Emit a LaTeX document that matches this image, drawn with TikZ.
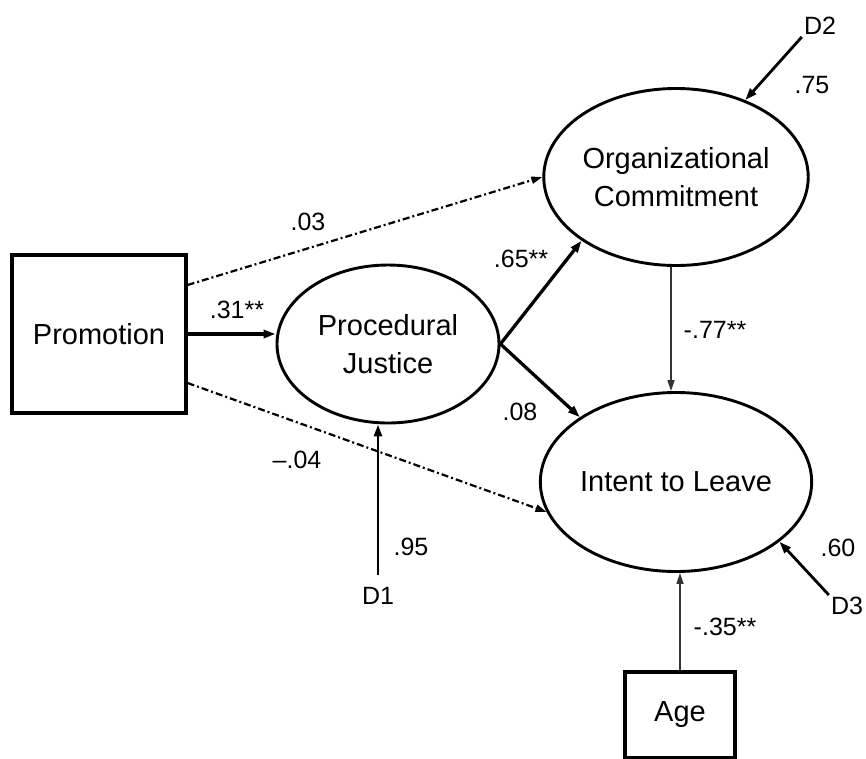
\documentclass[tikz,border=0pt]{standalone}
\usepackage{fontspec}
\setmainfont{Liberation Sans}
\usetikzlibrary{arrows.meta,shapes.geometric}

\tikzset{
  latent/.style={
    ellipse,
    draw,
    line width=2.9pt,
    inner sep=0pt,
    align=center,
    font=\fontsize{29}{38}\selectfont,
  },
  observed/.style={
    rectangle,
    draw,
    line width=3.1pt,
    inner sep=0pt,
    font=\fontsize{29}{35}\selectfont,
  },
  coef/.style={
    inner sep=0pt,
    font=\fontsize{25}{30}\selectfont,
  },
  disturb/.style={
    coef,
    inner sep=2pt,
  },
  path/.style={
    line width=3.3pt,
    -{Triangle[length=12pt,width=8pt]},
  },
  weak/.style={
    line width=1.6pt,
    draw=black!80,
    -{Triangle[length=11pt,width=7pt]},
  },
  nonsig/.style={
    line width=2.2pt,
    dash pattern=on 7pt off 3pt on 2pt off 3pt,
    -{Triangle[length=11pt,width=7pt]},
  },
}

\begin{document}
\begin{tikzpicture}[x=1pt, y=-1pt]

      \useasboundingbox (0,0) rectangle (866,758);

      \node[observed, minimum width=174pt, minimum height=158pt](promo) at (99,334) {Promotion};
      \node[latent, minimum width=222pt, minimum height=158pt](pj) at (388,344) {Procedural\\Justice};
      \node[latent, minimum width=248pt, minimum height=177pt](oc) at (676,177) {Organizational\\Commitment};
      \node[latent, minimum width=248pt, minimum height=179pt](itl) at (676,482) {Intent to Leave};
      \node[observed, minimum width=110pt, minimum height=86pt](age) at (680,715) {Age};

      \node[disturb](d1) at (378,596) {D1};
      \node[disturb](d2) at (820,26) {D2};
      \node[disturb](d3) at (847,606) {D3};

      \draw[path] (promo.east) -- (promo.east -| pj.west);
      \draw[path] (pj.east) -- (oc.214);
      \draw[path] (pj.east) -- (itl.146);
      \draw[nonsig] (promo.east |- 0,285) -- (oc.west);
      \draw[nonsig] (promo.east |- 0,383) -- (itl.193);
      \draw[weak] (oc.south -| 671,0) -- (itl.north -| 671,0);
      \draw[weak] (age.north) -- (age.north |- itl.south);

      \draw[path, line width=2.8pt, shorten <=10pt] (d1.north) -- (d1.north |- pj.south);
      \draw[path, line width=2.8pt] (d2.south west) -- (oc.48);
      \draw[path, line width=2.8pt] (d3.north west) -- (itl.-30);

      \node[coef] at (237,310) {.31**};
      \node[coef] at (308,222) {.03};
      \node[coef] at (297,460) {–.04};
      \node[coef] at (521,259) {.65**};
      \node[coef] at (520,412) {.08};
      \node[coef] at (715,330) {-.77**};
      \node[coef] at (725,627) {-.35**};
      \node[coef] at (411,547) {.95};
      \node[coef] at (812,85) {.75};
      \node[coef] at (838,548) {.60};

    \end{tikzpicture}
\end{document}
